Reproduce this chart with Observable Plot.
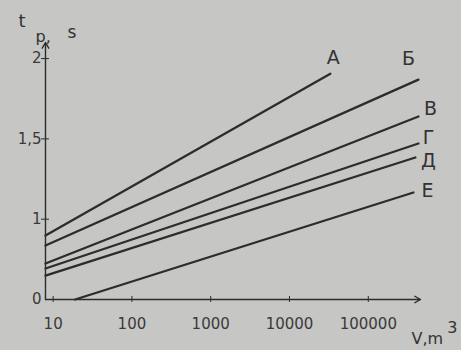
<!DOCTYPE html>
<html><head><meta charset="utf-8">
<script src="https://cdn.jsdelivr.net/npm/d3@7"></script>
<script src="https://cdn.jsdelivr.net/npm/@observablehq/plot@0.6"></script>
<style>
html,body{margin:0;padding:0;background:#c6c6c4;}
</style></head><body><div id="chart"></div>
<script>
// Curves (V in m3, t_p in s)
const series = ["А", "Б", "В", "Г", "Д", "Е"];
const startV = [8, 8, 8, 8, 8, 19];
const startT = [0.898, 0.836, 0.724, 0.693, 0.649, 0.5];
const endV = [33000, 433000, 433000, 433000, 396000, 374000];
const endT = [1.906, 1.869, 1.639, 1.471, 1.384, 1.166];
const xTicks = [10, 100, 1000, 10000, 100000];
const xTickLabels = ["10", "100", "1000", "10000", "100000"];
const yTicks = [0.5, 1, 1.5, 2];
const yTickLabels = ["0", "1", "1,5", "2"];

const rows = [];
series.forEach((s, i) => {
  rows.push({s, V: startV[i], t: startT[i]});
  rows.push({s, V: endV[i], t: endT[i]});
});
const ends = series.map((s, i) => ({s, V: endV[i], t: endT[i]}));
const labelOffset = {"А": [3, -16], "Б": [-10, -21], "В": [12, -8], "Г": [10, -6], "Д": [13, 3], "Е": [14, -2]};

const ink = "#2c2c2c";
const font = "DejaVu Sans";

const chart = Plot.plot({
  width: 461, height: 350,
  marginLeft: 45, marginRight: 41, marginTop: 42, marginBottom: 51,
  style: {background: "#c6c6c4", fontFamily: font, color: "#3a3a3a"},
  x: {type: "log", domain: [8, 460000], label: null},
  y: {domain: [0.5, 2.1], label: null},
  marks: [
    Plot.arrow([{x1: 8, y1: 0.5, x2: 8, y2: 2.1}, {x1: 8, y1: 0.5, x2: 460000, y2: 0.5}],
      {x1: "x1", y1: "y1", x2: "x2", y2: "y2", stroke: ink, strokeWidth: 1.4, headLength: 7}),
    Plot.axisY({ticks: yTicks.slice(1), tickSize: 8, dx: 4, tickFormat: () => "", stroke: ink}),
    Plot.axisY({ticks: yTicks, tickSize: 0, tickPadding: 4, fontSize: 15,
      tickFormat: d => yTickLabels[yTicks.indexOf(d)], fill: "#3a3a3a"}),
    Plot.axisX({ticks: xTicks, tickSize: 6, dy: -3, tickFormat: () => "", stroke: ink}),
    Plot.axisX({ticks: xTicks, tickSize: 0, tickPadding: 19, fontSize: 15,
      tickFormat: d => xTickLabels[xTicks.indexOf(d)], fill: "#3a3a3a"}),
    Plot.line(rows, {x: "V", y: "t", z: "s", stroke: ink, strokeWidth: 2.3}),
    ...ends.map(e => Plot.text([e], {x: "V", y: "t", text: "s", fontSize: 19, fill: "#333",
      dx: labelOffset[e.s][0], dy: labelOffset[e.s][1], lineAnchor: "middle"})),
    Plot.text(["t"], {frameAnchor: "top-left", dx: -27, dy: -21, fontSize: 18, fill: "#333", lineAnchor: "middle"}),
    Plot.text(["p,"], {frameAnchor: "top-left", dx: -10, dy: -6, fontSize: 16, fill: "#333", lineAnchor: "middle"}),
    Plot.text(["s"], {frameAnchor: "top-left", dx: 22, dy: -10, fontSize: 17, fill: "#333", lineAnchor: "middle"}),
    Plot.text(["V,m"], {frameAnchor: "bottom-right", dx: -9, dy: 39, fontSize: 16, fill: "#333", textAnchor: "start", lineAnchor: "middle"}),
    Plot.text(["3"], {frameAnchor: "bottom-right", dx: 37, dy: 28, fontSize: 16, fill: "#333", lineAnchor: "middle"})
  ]
});
document.getElementById("chart").appendChild(chart);
</script></body></html>
